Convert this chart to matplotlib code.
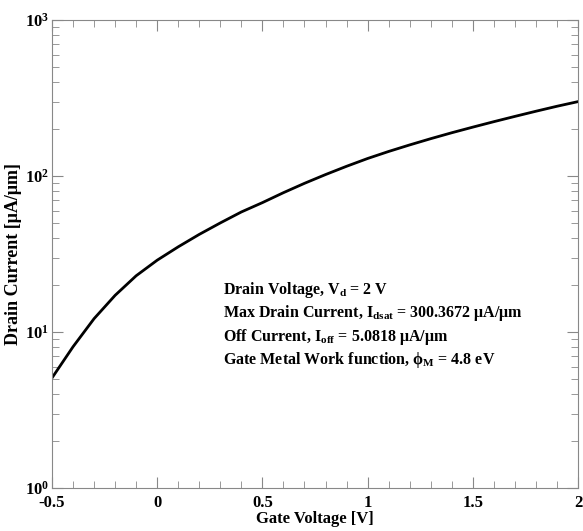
import matplotlib
matplotlib.use("Agg")
import matplotlib.pyplot as plt
from matplotlib.ticker import MultipleLocator, LogLocator, FixedLocator, NullFormatter

fam = 'Liberation Serif'
plt.rcParams['font.family'] = fam
plt.rcParams['font.weight'] = 'bold'
plt.rcParams['mathtext.fontset'] = 'custom'
plt.rcParams['mathtext.rm'] = fam + ':bold'
plt.rcParams['mathtext.it'] = fam + ':bold'
plt.rcParams['mathtext.bf'] = fam + ':bold'
plt.rcParams['mathtext.default'] = 'rm'

# gate voltage sweep and drain current (uA/um)
vg = [-0.5, -0.4, -0.3, -0.2, -0.1, 0.0, 0.1, 0.2, 0.3, 0.4, 0.5, 0.6, 0.7,
      0.8, 0.9, 1.0, 1.1, 1.2, 1.3, 1.4, 1.5, 1.6, 1.7, 1.8, 1.9, 2.0]
id_ = [5.08, 8.05, 12.19, 17.2, 22.96, 28.9, 35.2, 42.3, 50.1, 58.9, 67.6,
       78.3, 89.9, 102.3, 115.6, 129.7, 143.9, 158.5, 173.8, 189.7, 206.1,
       223.4, 241.5, 260.6, 280.5, 300.37]

xticks = [-0.5, 0, 0.5, 1, 1.5, 2]
xticklabels = ['-0.5', '0', '0.5', '1', '1.5', '2']
yticks = [1, 10, 100, 1000]
yticklabels = ['$10^{0}$', '$10^{1}$', '$10^{2}$', '$10^{3}$']

info = [
    'Drain Voltage, V$_{d}$ = 2 V',
    'Max Drain Current, I$_{dsat}$ = 300.3672 \u03bcA/\u03bcm',
    'Off Current, I$_{off}$ = 5.0818 \u03bcA/\u03bcm',
    'Gate Metal Work function, \u03d5$_{M}$ = 4.8 eV',
]

fig = plt.figure(figsize=(5.83, 5.31), dpi=100)
ax = fig.add_axes([0.0892, 0.081, 0.9022, 0.881])

ax.plot(vg, id_, color='black', lw=2)

ax.set_yscale('log')
ax.set_xlim(-0.5, 2)
ax.set_ylim(1, 1000)

ax.xaxis.set_major_locator(FixedLocator(xticks))
ax.set_xticklabels(xticklabels)
ax.xaxis.set_minor_locator(MultipleLocator(0.1))
ax.yaxis.set_major_locator(FixedLocator(yticks))
ax.set_yticklabels(yticklabels)
ax.yaxis.set_minor_locator(LogLocator(base=10, subs=range(2, 10)))
ax.yaxis.set_minor_formatter(NullFormatter())

for s in ax.spines.values():
    s.set_color('#888888')
ax.tick_params(which='both', direction='in', top=True, right=True,
               color='#888888', labelsize=12)
ax.tick_params(axis='x', pad=5)
ax.tick_params(axis='y', pad=2)
ax.tick_params(which='major', length=8)
ax.tick_params(which='minor', length=5)

ax.set_xlabel('Gate Voltage [V]', fontsize=12, fontweight='bold', labelpad=0)
ax.set_ylabel('Drain Current [\u03bcA/\u03bcm]', fontsize=13, fontweight='bold', labelpad=2)

y0 = 0.415
for i, line in enumerate(info):
    ax.text(0.325, y0 - i * 0.05, line, transform=ax.transAxes,
            fontsize=11.5, fontweight='bold', va='baseline')

fig.savefig('out.png', dpi=100)
